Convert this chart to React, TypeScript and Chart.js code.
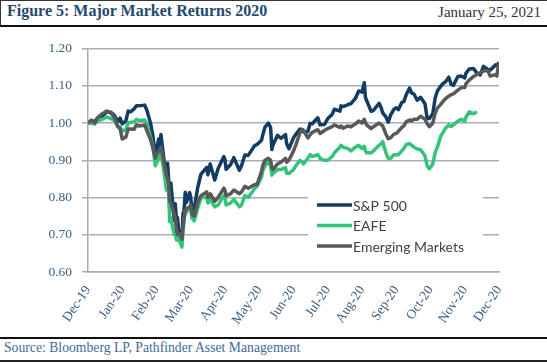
import React, { useEffect, useRef } from "react";
import { Chart, registerables } from "chart.js";

Chart.register(...registerables);

// ---------- DATA ----------
const dates = [
  "2019-12-31", "2020-01-03", "2020-01-06", "2020-01-09", "2020-01-13", "2020-01-17", "2020-01-21", "2020-01-24", "2020-01-27", "2020-01-29", "2020-01-31",
  "2020-02-03", "2020-02-05", "2020-02-07", "2020-02-10", "2020-02-12", "2020-02-14", "2020-02-19", "2020-02-21", "2020-02-24", "2020-02-26", "2020-02-28",
  "2020-03-02", "2020-03-03", "2020-03-04", "2020-03-06", "2020-03-09", "2020-03-10", "2020-03-11", "2020-03-12", "2020-03-13", "2020-03-16", "2020-03-17",
  "2020-03-18", "2020-03-19", "2020-03-20", "2020-03-23", "2020-03-24", "2020-03-25", "2020-03-26", "2020-03-27", "2020-03-30", "2020-03-31",
  "2020-04-01", "2020-04-03", "2020-04-06", "2020-04-08", "2020-04-09", "2020-04-14", "2020-04-15", "2020-04-17", "2020-04-21", "2020-04-24", "2020-04-29", "2020-04-30",
  "2020-05-01", "2020-05-05", "2020-05-08", "2020-05-13", "2020-05-15", "2020-05-18", "2020-05-21", "2020-05-27", "2020-05-29",
  "2020-06-02", "2020-06-03", "2020-06-05", "2020-06-08", "2020-06-10", "2020-06-11", "2020-06-12", "2020-06-16", "2020-06-19", "2020-06-23", "2020-06-24", "2020-06-26", "2020-06-30",
  "2020-07-02", "2020-07-06", "2020-07-08", "2020-07-09", "2020-07-13", "2020-07-15", "2020-07-17", "2020-07-22", "2020-07-24", "2020-07-28", "2020-07-31",
  "2020-08-04", "2020-08-06", "2020-08-11", "2020-08-12", "2020-08-14", "2020-08-18", "2020-08-21", "2020-08-25", "2020-08-28", "2020-08-31",
  "2020-09-02", "2020-09-03", "2020-09-04", "2020-09-08", "2020-09-10", "2020-09-15", "2020-09-17", "2020-09-18", "2020-09-21", "2020-09-23", "2020-09-25", "2020-09-28", "2020-09-30",
  "2020-10-02", "2020-10-05", "2020-10-07", "2020-10-09", "2020-10-12", "2020-10-14", "2020-10-16", "2020-10-19", "2020-10-22", "2020-10-26", "2020-10-28", "2020-10-30",
  "2020-11-02", "2020-11-04", "2020-11-06", "2020-11-09", "2020-11-11", "2020-11-13", "2020-11-16", "2020-11-18", "2020-11-20", "2020-11-24", "2020-11-27", "2020-11-30",
  "2020-12-01", "2020-12-04", "2020-12-08", "2020-12-11", "2020-12-14", "2020-12-17", "2020-12-21", "2020-12-23", "2020-12-28", "2020-12-29", "2020-12-31",
];

const sp500 = [
  1.000, 1.001, 1.005, 1.014, 1.018, 1.031, 1.028, 1.020, 1.004, 1.013, 0.998,
  1.005, 1.032, 1.030, 1.038, 1.046, 1.046, 1.048, 1.033, 0.999, 0.964, 0.914,
  0.957, 0.930, 0.969, 0.920, 0.850, 0.892, 0.848, 0.768, 0.839, 0.739, 0.783,
  0.742, 0.746, 0.713, 0.693, 0.757, 0.766, 0.814, 0.786, 0.813, 0.800,
  0.765, 0.770, 0.825, 0.851, 0.863, 0.881, 0.861, 0.890, 0.847, 0.878, 0.910, 0.901,
  0.876, 0.888, 0.907, 0.873, 0.886, 0.914, 0.913, 0.940, 0.942,
  0.954, 0.967, 0.989, 1.000, 0.987, 0.929, 0.941, 0.967, 0.959, 0.969, 0.944, 0.931, 0.960,
  0.969, 0.984, 0.981, 0.976, 0.977, 0.999, 0.998, 1.014, 0.995, 0.996, 1.012,
  1.023, 1.037, 1.032, 1.046, 1.044, 1.049, 1.052, 1.066, 1.086, 1.083,
  1.108, 1.069, 1.061, 1.031, 1.034, 1.053, 1.039, 1.028, 1.016, 1.002, 1.021, 1.037, 1.041,
  1.036, 1.055, 1.058, 1.076, 1.094, 1.080, 1.078, 1.061, 1.069, 1.052, 1.012, 1.012,
  1.025, 1.066, 1.086, 1.099, 1.106, 1.110, 1.123, 1.104, 1.101, 1.125, 1.126, 1.121,
  1.133, 1.145, 1.146, 1.134, 1.129, 1.152, 1.144, 1.142, 1.156, 1.154, 1.163,
];

const eafe = [
  1.000, 1.000, 0.997, 1.006, 1.010, 1.016, 1.012, 1.006, 0.990, 0.990, 0.978,
  0.983, 1.000, 1.002, 1.003, 1.010, 1.007, 1.008, 0.997, 0.962, 0.935, 0.885,
  0.905, 0.910, 0.918, 0.885, 0.820, 0.830, 0.810, 0.735, 0.745, 0.700, 0.712,
  0.686, 0.685, 0.690, 0.667, 0.710, 0.740, 0.765, 0.760, 0.770, 0.775,
  0.745, 0.737, 0.770, 0.790, 0.800, 0.800, 0.785, 0.795, 0.775, 0.780, 0.805, 0.800,
  0.780, 0.785, 0.795, 0.775, 0.780, 0.805, 0.800, 0.825, 0.830,
  0.855, 0.870, 0.885, 0.895, 0.885, 0.860, 0.865, 0.875, 0.875, 0.880, 0.865, 0.865, 0.875,
  0.885, 0.900, 0.895, 0.890, 0.905, 0.915, 0.910, 0.915, 0.905, 0.900, 0.900,
  0.910, 0.920, 0.935, 0.940, 0.935, 0.932, 0.925, 0.935, 0.940, 0.932,
  0.937, 0.925, 0.920, 0.920, 0.925, 0.940, 0.945, 0.950, 0.920, 0.905, 0.905, 0.915, 0.915,
  0.915, 0.925, 0.932, 0.942, 0.945, 0.940, 0.935, 0.930, 0.928, 0.912, 0.885, 0.877,
  0.890, 0.920, 0.935, 0.965, 0.975, 0.985, 0.995, 0.990, 0.995, 1.005, 1.010, 1.005,
  1.015, 1.030, 1.025, 1.030, null, null, null, null, null, null, null,
];

const emerging = [
  1.000, 1.008, 1.000, 1.015, 1.025, 1.032, 1.026, 1.014, 0.990, 0.985, 0.957,
  0.962, 0.984, 0.984, 0.983, 0.995, 0.992, 0.994, 0.978, 0.955, 0.932, 0.906,
  0.925, 0.930, 0.935, 0.905, 0.860, 0.852, 0.835, 0.790, 0.785, 0.755, 0.745,
  0.715, 0.700, 0.705, 0.688, 0.720, 0.745, 0.765, 0.770, 0.775, 0.780,
  0.755, 0.750, 0.785, 0.800, 0.805, 0.815, 0.800, 0.810, 0.790, 0.800, 0.825, 0.820,
  0.805, 0.810, 0.820, 0.810, 0.815, 0.830, 0.825, 0.835, 0.835,
  0.870, 0.885, 0.900, 0.905, 0.900, 0.880, 0.875, 0.890, 0.895, 0.905, 0.895, 0.900, 0.925,
  0.940, 0.975, 0.983, 0.980, 0.960, 0.968, 0.975, 0.982, 0.972, 0.980, 0.985,
  0.990, 0.995, 0.988, 0.992, 0.986, 0.992, 0.990, 0.997, 1.005, 1.000,
  1.010, 1.002, 0.995, 0.985, 0.990, 1.000, 0.995, 0.993, 0.970, 0.958, 0.960, 0.970, 0.972,
  0.978, 0.988, 0.993, 1.003, 1.008, 1.006, 1.010, 1.010, 1.018, 1.010, 0.998, 0.990,
  1.000, 1.025, 1.040, 1.050, 1.058, 1.065, 1.072, 1.076, 1.078, 1.088, 1.095, 1.095,
  1.105, 1.115, 1.125, 1.130, 1.135, 1.140, 1.140, 1.126, 1.130, 1.126, 1.163,
];

const seriesNames = ["S&P 500", "EAFE", "Emerging Markets"];
const seriesColors = ["#123c63", "#33c47a", "#595959"];
const monthLabels = ["Dec-19", "Jan-20", "Feb-20", "Mar-20", "Apr-20", "May-20", "Jun-20", "Jul-20", "Aug-20", "Sep-20", "Oct-20", "Nov-20", "Dec-20"];
const yMin = 0.6;
const yMax = 1.2;
const yStep = 0.1;

// month position of a date: Dec-19 month end = 0, Dec-20 month end = 12
function toMonths(d: string): number {
  const [y, m, dd] = d.split("-").map(Number);
  const dim = new Date(y, m, 0).getDate();
  return (y - 2020) * 12 + (m - 1) + dd / dim;
}

function toPoints(values: (number | null)[]) {
  return values.map((v, i) => ({ x: toMonths(dates[i]), y: v }));
}

const insideLegend = {
  id: "insideLegend",
  afterDatasetsDraw(chart: any) {
    const { ctx, chartArea } = chart;
    const x0 = chartArea.left + 220;
    const y0 = chartArea.top + 137.5;
    ctx.save();
    ctx.fillStyle = "#ffffff";
    ctx.fillRect(x0, y0, 175, 76);
    ctx.font = '14px Lato';
    ctx.textBaseline = "middle";
    ctx.textAlign = "left";
    chart.data.datasets.forEach((ds: any, i: number) => {
      const cy = y0 + 19 + i * 20.5;
      ctx.strokeStyle = ds.borderColor;
      ctx.lineWidth = 3.5;
      ctx.beginPath();
      ctx.moveTo(x0 + 9, cy);
      ctx.lineTo(x0 + 44, cy);
      ctx.stroke();
      ctx.fillStyle = "#404040";
      ctx.fillText(ds.label, x0 + 45, cy + 1);
    });
    ctx.restore();
  },
};

function MarketChart() {
  const ref = useRef<HTMLCanvasElement | null>(null);
  useEffect(() => {
    if (!ref.current) return;
    const tickFont = { family: '"Liberation Serif", serif', size: 13.5 };
    const tickColor = "#3b5f86";
    const gridColor = "#a9acb9";
    const seriesData = [sp500, eafe, emerging];
    const chart = new Chart(ref.current, {
      type: "line",
      data: {
        datasets: seriesNames.map((name, i) => ({
          label: name,
          data: toPoints(seriesData[i]),
          borderColor: seriesColors[i],
          backgroundColor: seriesColors[i],
          borderWidth: 3.5,
          pointRadius: 0,
          tension: 0,
          spanGaps: false,
          borderJoinStyle: "round" as const,
          order: 3 - i,
        })),
      },
      options: {
        animation: false,
        responsive: false,
        maintainAspectRatio: false,
        layout: { padding: { top: 20.5, right: 48, left: 0, bottom: 0 } },
        plugins: { legend: { display: false }, tooltip: { enabled: false } },
        scales: {
          x: {
            type: "linear",
            min: 0,
            max: 12,
            afterFit: (s: any) => { s.height = 64; },
            grid: { display: false, drawTicks: false },
            border: { display: true, color: gridColor, width: 1.5 },
            ticks: {
              stepSize: 1,
              autoSkip: false,
              minRotation: 56,
              maxRotation: 56,
              padding: 11,
              color: tickColor,
              font: tickFont,
              callback: (v: any) => monthLabels[Math.round(Number(v))] ?? "",
            },
          },
          y: {
            min: yMin,
            max: yMax,
            afterFit: (s: any) => { s.width = 88; },
            grid: { color: gridColor, lineWidth: 1.5, tickLength: 6 },
            border: { color: gridColor, width: 1.5 },
            ticks: {
              stepSize: yStep,
              padding: 10,
              color: tickColor,
              font: tickFont,
              callback: (v: any) => Number(v).toFixed(2),
            },
          },
        },
      },
      plugins: [insideLegend],
    });
    return () => chart.destroy();
  }, []);
  return <canvas ref={ref} width={547} height={308} style={{ position: "absolute", left: 0, top: 28, width: 547, height: 308 }} />;
}

export default function App() {
  return (
    <div style={{ position: "fixed", left: 0, top: 0, width: 547, height: 363, background: "#ffffff", overflow: "hidden" }}>
      <div style={{ position: "absolute", left: 0, top: 0, width: 547, height: 1, background: "#333" }} />
      <div style={{ position: "absolute", left: 0, top: 0, width: 1, height: 26, background: "#333" }} />
      <div style={{ position: "absolute", left: 0, top: 25, width: 547, height: 2, background: "#111" }} />
      <div style={{ position: "absolute", left: 7, top: 2, font: 'bold 16px "Liberation Serif", serif', lineHeight: "18px", color: "#1f4a72", whiteSpace: "nowrap" }}>
        Figure 5: Major Market Returns 2020
      </div>
      <div style={{ position: "absolute", right: 6, top: 3, font: '15px "Liberation Serif", serif', lineHeight: "18px", color: "#333", whiteSpace: "nowrap" }}>
        January 25, 2021
      </div>
      <MarketChart />
      <div style={{ position: "absolute", left: 0, top: 337, width: 547, height: 2, background: "#111" }} />
      <div style={{ position: "absolute", left: 4, top: 340, font: '13.7px "Liberation Serif", serif', lineHeight: "15px", color: "#3e6a98", whiteSpace: "nowrap" }}>
        Source: Bloomberg LP, Pathfinder Asset Management
      </div>
      <div style={{ position: "absolute", left: 0, top: 360, width: 547, height: 2, background: "#222" }} />
    </div>
  );
}
